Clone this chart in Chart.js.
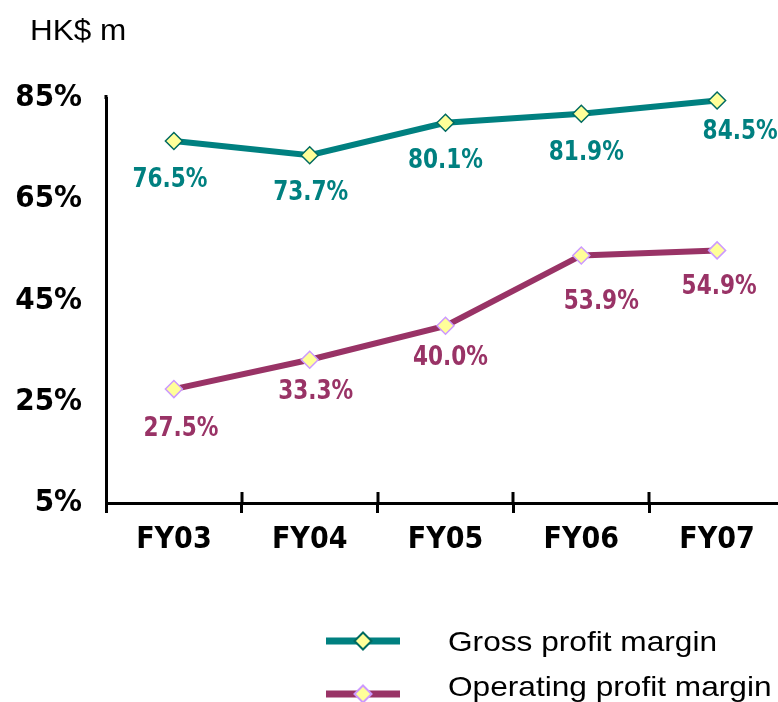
<!DOCTYPE html>
<html><head><meta charset="utf-8">
<style>
html,body{margin:0;padding:0;overflow:hidden;background:#fff}
#wrap{position:relative;width:795px;height:702px}
canvas{display:block}
</style>
<script src="https://cdn.jsdelivr.net/npm/chart.js@4.4.1/dist/chart.umd.min.js"></script>
</head><body><div id="wrap"><canvas id="c" width="795" height="702" style="width:795px;height:702px"></canvas></div>
<script>
// ---- data ----
const categories = ['FY03', 'FY04', 'FY05', 'FY06', 'FY07'];
const grossMargin = [76.5, 73.7, 80.1, 81.9, 84.5];
const operatingMargin = [27.5, 33.3, 40.0, 53.9, 54.9];
const yTickValues = [5, 25, 45, 65, 85];
const seriesNames = ['Gross profit margin', 'Operating profit margin'];
const unitLabel = 'HK$ m';

// ---- label placement (pixel offsets from each point) ----
const grossLabelOffsets = [[-4, 36], [1, 35], [0, 35], [5, 36], [23, 29]];
const opLabelOffsets = [[7, 37], [6, 29], [5, 29], [20, 44], [2, 34]];

const TEAL = '#008080', PLUM = '#993366';
const BOLD_FAMILY = '"DejaVu Sans Condensed", "DejaVu Sans", sans-serif';
const ARIAL = '"Liberation Sans", Arial, sans-serif';

function diamond(ctx, x, y, r, fill, stroke, lw) {
  ctx.beginPath();
  ctx.moveTo(x, y - r); ctx.lineTo(x + r, y); ctx.lineTo(x, y + r); ctx.lineTo(x - r, y);
  ctx.closePath();
  ctx.fillStyle = fill; ctx.fill();
  ctx.lineWidth = lw; ctx.strokeStyle = stroke; ctx.stroke();
}

const extrasPlugin = {
  id: 'extras',
  afterDraw(chart) {
    const ctx = chart.ctx;
    const xs = chart.scales.x;
    const area = chart.chartArea;
    ctx.save();
    // upper half of x-axis tick marks (crossing ticks) and top stub of y axis
    ctx.strokeStyle = '#000'; ctx.lineWidth = 3;
    for (let i = 1; i < categories.length; i++) {
      const px = Math.round(xs.getPixelForValue(i - 0.5));
      ctx.beginPath(); ctx.moveTo(px, area.bottom - 11); ctx.lineTo(px, area.bottom); ctx.stroke();
    }
    ctx.beginPath(); ctx.moveTo(area.left, area.top - 3); ctx.lineTo(area.left, area.top + 1); ctx.stroke();
    // data labels
    chart.data.datasets.forEach((ds, di) => {
      const meta = chart.getDatasetMeta(di);
      const offs = ds.labelOffsets;
      ctx.fillStyle = ds.borderColor;
      ctx.font = 'bold 27px ' + BOLD_FAMILY;
      ctx.textAlign = 'center';
      ctx.textBaseline = 'alphabetic';
      meta.data.forEach((el, i) => {
        const txt = ds.data[i].toFixed(1) + '%';
        const cx = el.x + offs[i][0];
        const cy = el.y + offs[i][1];
        ctx.save();
        ctx.translate(cx, cy + 27 * 0.364);
        ctx.scale(0.89, 1);
        ctx.fillText(txt, 0, 0);
        ctx.restore();
      });
    });
    // unit label
    ctx.fillStyle = '#000';
    ctx.font = '30px ' + ARIAL;
    ctx.textAlign = 'left';
    ctx.save(); ctx.translate(30, 40); ctx.scale(1.05, 1); ctx.fillText(unitLabel, 0, 0); ctx.restore();
    // legend
    const lineRows = [641, 694];
    const textRows = [651, 696];
    chart.data.datasets.forEach((ds, di) => {
      const y = lineRows[di];
      ctx.strokeStyle = ds.borderColor; ctx.lineWidth = 7; ctx.lineCap = 'butt';
      ctx.beginPath(); ctx.moveTo(326, y); ctx.lineTo(400, y); ctx.stroke();
      diamond(ctx, 363, y, 8.5, ds.pointBackgroundColor, ds.pointBorderColor, 2);
      ctx.fillStyle = '#000';
      ctx.font = '28px ' + ARIAL;
      ctx.save(); ctx.translate(448, textRows[di]); ctx.scale(1.13, 1); ctx.fillText(ds.label, 0, 0); ctx.restore();
    });
    ctx.restore();
  }
};

new Chart(document.getElementById('c'), {
  type: 'line',
  data: {
    labels: categories,
    datasets: [
      {
        label: seriesNames[0], data: grossMargin, borderColor: TEAL, borderWidth: 6,
        pointStyle: 'rectRot', pointRadius: 8.5, pointBackgroundColor: '#FFFF99',
        pointBorderColor: '#006A60', pointBorderWidth: 1.5, tension: 0, clip: false,
        labelOffsets: grossLabelOffsets
      },
      {
        label: seriesNames[1], data: operatingMargin, borderColor: PLUM, borderWidth: 6,
        pointStyle: 'rectRot', pointRadius: 8.5, pointBackgroundColor: '#FFFF99',
        pointBorderColor: '#CC99FF', pointBorderWidth: 1.5, tension: 0, clip: false,
        labelOffsets: opLabelOffsets
      }
    ]
  },
  options: {
    responsive: false,
    animation: false,
    events: [],
    layout: { padding: { top: 98, left: 0, right: 0, bottom: 139 } },
    plugins: { legend: { display: false }, tooltip: { enabled: false } },
    scales: {
      x: {
        offset: true,
        grid: { offset: true, drawOnChartArea: false, drawTicks: true, tickLength: 10, color: '#000', lineWidth: 3 },
        border: { color: '#000', width: 3 },
        ticks: { color: '#000', font: { family: BOLD_FAMILY, size: 30, weight: 'bold' }, padding: 9, maxRotation: 0, autoSkip: false },
        afterFit(s) { s.height = 60; }
      },
      y: {
        min: 5, max: 85,
        afterBuildTicks(s) { s.ticks = yTickValues.map(v => ({ value: v })); },
        grid: { drawOnChartArea: false, drawTicks: false },
        border: { color: '#000', width: 3 },
        ticks: { color: '#000', font: { family: BOLD_FAMILY, size: 31, weight: 'bold' }, padding: 24, callback: v => v + '%' },
        afterFit(s) { s.width = 106; }
      }
    }
  },
  plugins: [extrasPlugin]
});
</script>
</body></html>
